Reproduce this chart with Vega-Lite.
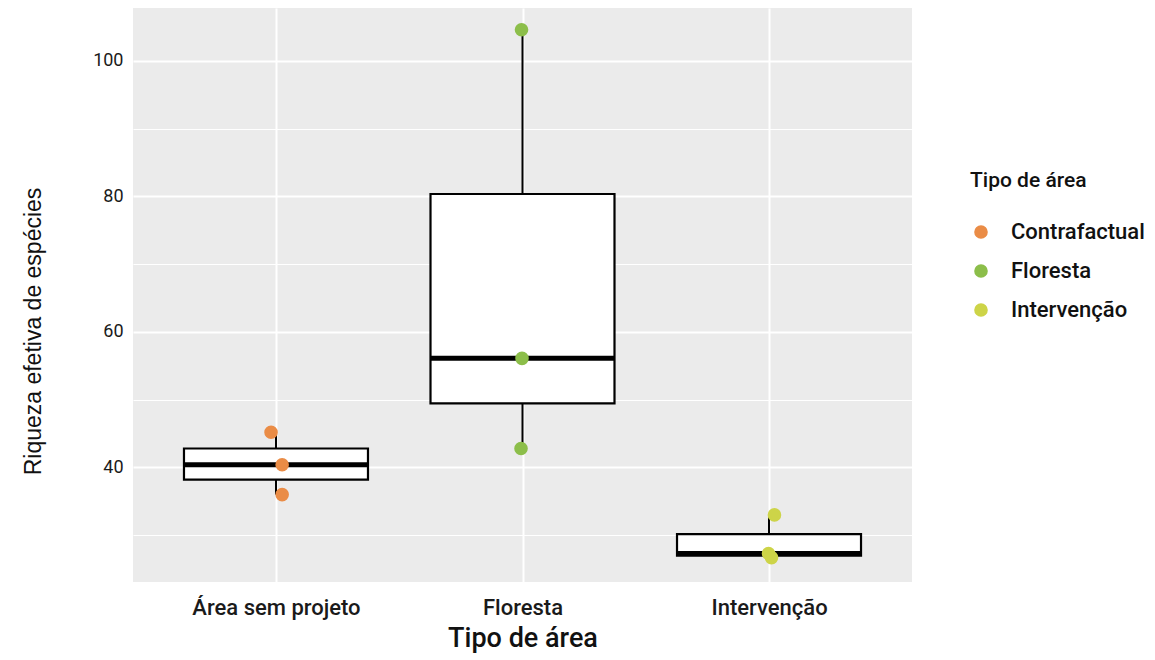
{
  "$schema": "https://vega.github.io/schema/vega-lite/v6.json",
  "width": 779,
  "height": 574,
  "autosize": "none",
  "padding": {"left": 133, "top": 8, "right": 243, "bottom": 78},
  "background": "white",
  "config": {
    "view": {"fill": "#EBEBEB", "stroke": null},
    "font": "Roboto"
  },
  "data": {
    "values": [
      {"grupo": "Área sem projeto", "tipo": "Contrafactual", "riqueza": 45.2, "jitter": -0.02},
      {"grupo": "Área sem projeto", "tipo": "Contrafactual", "riqueza": 40.4, "jitter": 0.025},
      {"grupo": "Área sem projeto", "tipo": "Contrafactual", "riqueza": 36.0, "jitter": 0.025},
      {"grupo": "Floresta", "tipo": "Floresta", "riqueza": 104.6, "jitter": -0.004},
      {"grupo": "Floresta", "tipo": "Floresta", "riqueza": 56.1, "jitter": -0.002},
      {"grupo": "Floresta", "tipo": "Floresta", "riqueza": 42.8, "jitter": -0.006},
      {"grupo": "Intervenção", "tipo": "Intervenção", "riqueza": 33.0, "jitter": 0.022},
      {"grupo": "Intervenção", "tipo": "Intervenção", "riqueza": 27.3, "jitter": -0.002},
      {"grupo": "Intervenção", "tipo": "Intervenção", "riqueza": 26.7, "jitter": 0.01}
    ]
  },
  "encoding": {
    "x": {
      "field": "grupo",
      "type": "nominal",
      "sort": ["Área sem projeto", "Floresta", "Intervenção"],
      "scale": {"type": "point", "padding": 0.58},
      "title": "Tipo de área",
      "axis": {
        "domain": false,
        "ticks": false,
        "labelPadding": 15,
        "labelFontSize": 22,
        "labelFontWeight": 500,
        "labelColor": "#1a1a1a",
        "labelAngle": 0,
        "grid": true,
        "gridColor": "white",
        "gridWidth": 2,
        "titleFontSize": 27,
        "titleFontWeight": 500,
        "titleColor": "#111111",
        "titlePadding": 7
      }
    }
  },
  "layer": [
    {
      "mark": {
        "type": "boxplot",
        "extent": "min-max",
        "size": 184,
        "opacity": 1,
        "box": {"color": "white", "stroke": "black", "strokeWidth": 2.2, "opacity": 1},
        "median": {"color": "black", "thickness": 5, "opacity": 1},
        "rule": {"color": "black", "strokeWidth": 2, "opacity": 1}
      },
      "encoding": {
        "y": {
          "field": "riqueza",
          "type": "quantitative",
          "scale": {"domain": [23.1, 107.8], "nice": false, "zero": false},
          "title": "Riqueza efetiva de espécies",
          "axis": {
            "values": [30, 40, 50, 60, 70, 80, 90, 100],
            "labelExpr": "datum.value % 20 == 0 ? datum.label : ''",
            "domain": false,
            "ticks": false,
            "labelPadding": 10,
            "labelFontSize": 18,
            "labelColor": "#1a1a1a",
            "grid": true,
            "gridColor": "white",
            "gridWidth": {"condition": {"test": "datum.value % 20 == 0", "value": 2.2}, "value": 1.1},
            "titleFont": "Liberation Sans",
            "titleFontSize": 23,
            "titleFontWeight": "normal",
            "titleColor": "#111111",
            "titleAngle": -90,
            "titleX": -100,
            "titleY": 323,
            "titleAlign": "center",
            "titleBaseline": "middle"
          }
        }
      }
    },
    {
      "mark": {"type": "circle", "size": 185, "opacity": 1},
      "encoding": {
        "y": {"field": "riqueza", "type": "quantitative"},
        "xOffset": {"field": "jitter", "type": "quantitative", "scale": {"domain": [-0.5, 0.5], "range": [-123.5, 123.5]}},
        "color": {
          "field": "tipo",
          "type": "nominal",
          "scale": {"domain": ["Contrafactual", "Floresta", "Intervenção"], "range": ["#EA8C46", "#8CBE4A", "#CDD448"]},
          "legend": {
            "orient": "none",
            "legendX": 837,
            "legendY": 162,
            "title": "Tipo de área",
            "titleFontSize": 21,
            "titleFontWeight": 500,
            "titleColor": "#111111",
            "titlePadding": 30,
            "labelFontSize": 22,
            "labelFontWeight": 500,
            "labelColor": "#111111",
            "labelOffset": 19,
            "symbolType": "circle",
            "symbolSize": 185,
            "symbolStrokeWidth": 0,
            "symbolOpacity": 1,
            "rowPadding": 17
          }
        }
      }
    }
  ]
}
